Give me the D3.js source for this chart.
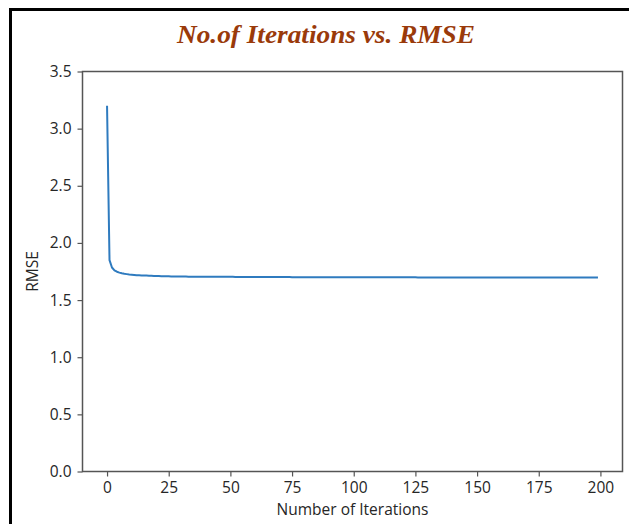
<!DOCTYPE html>
<html>
<head>
<meta charset="utf-8">
<script src="https://cdn.jsdelivr.net/npm/d3@7"></script>
<style>
  html, body { margin: 0; padding: 0; background: #fff; }
  svg { display: block; }
</style>
</head>
<body>
<div id="chart"></div>
<script>
// ---- Data ----
const titleText = "No.of Iterations vs. RMSE";
const xLabel = "Number of Iterations";
const yLabel = "RMSE";
const xTicks = [0, 25, 50, 75, 100, 125, 150, 175, 200];
const yTicks = [0.0, 0.5, 1.0, 1.5, 2.0, 2.5, 3.0, 3.5];
// RMSE per iteration (0..199)
const rmse = [
  3.200, 1.850, 1.785, 1.760, 1.748, 1.740, 1.734, 1.730, 1.727, 1.724,
  1.722, 1.720, 1.718, 1.717, 1.716, 1.715, 1.714, 1.713, 1.712, 1.711,
  1.710, 1.710, 1.709, 1.709, 1.708, 1.708, 1.707, 1.707, 1.707, 1.706,
  1.706, 1.706, 1.706, 1.705, 1.705, 1.705, 1.705, 1.705, 1.704, 1.704,
  1.704, 1.704, 1.704, 1.704, 1.703, 1.703, 1.703, 1.703, 1.703, 1.703,
  1.703, 1.703, 1.702, 1.702, 1.702, 1.702, 1.702, 1.702, 1.702, 1.702,
  1.702, 1.702, 1.701, 1.701, 1.701, 1.701, 1.701, 1.701, 1.701, 1.701,
  1.701, 1.701, 1.701, 1.701, 1.701, 1.700, 1.700, 1.700, 1.700, 1.700,
  1.700, 1.700, 1.700, 1.700, 1.700, 1.700, 1.700, 1.700, 1.700, 1.700,
  1.700, 1.700, 1.700, 1.700, 1.700, 1.700, 1.700, 1.699, 1.699, 1.699,
  1.699, 1.699, 1.699, 1.699, 1.699, 1.699, 1.699, 1.699, 1.699, 1.699,
  1.699, 1.699, 1.699, 1.699, 1.699, 1.699, 1.699, 1.699, 1.699, 1.699,
  1.699, 1.699, 1.699, 1.699, 1.699, 1.699, 1.698, 1.698, 1.698, 1.698,
  1.698, 1.698, 1.698, 1.698, 1.698, 1.698, 1.698, 1.698, 1.698, 1.698,
  1.698, 1.698, 1.698, 1.698, 1.698, 1.698, 1.698, 1.698, 1.698, 1.698,
  1.698, 1.698, 1.698, 1.698, 1.698, 1.698, 1.698, 1.698, 1.698, 1.698,
  1.697, 1.697, 1.697, 1.697, 1.697, 1.697, 1.697, 1.697, 1.697, 1.697,
  1.697, 1.697, 1.697, 1.697, 1.697, 1.697, 1.697, 1.697, 1.697, 1.697,
  1.697, 1.697, 1.697, 1.697, 1.697, 1.697, 1.697, 1.697, 1.697, 1.697,
  1.697, 1.697, 1.697, 1.697, 1.697, 1.697, 1.697, 1.697, 1.697, 1.697
];

// ---- Layout ----
const W = 629, H = 524;
const plot = { left: 82.5, right: 622.5, top: 71.5, bottom: 471.5 };

const svg = d3.select("#chart").append("svg")
  .attr("width", W).attr("height", H);

// outer black frame (left + top visible)
svg.append("line").attr("x1", 10.5).attr("x2", 10.5).attr("y1", 8).attr("y2", H)
  .attr("stroke", "#000").attr("stroke-width", 3);
svg.append("line").attr("x1", 9).attr("x2", W).attr("y1", 9.5).attr("y2", 9.5)
  .attr("stroke", "#000").attr("stroke-width", 3);

// title
svg.append("text")
  .attr("x", 177).attr("y", 43)
  .attr("font-family", "'Liberation Serif', 'DejaVu Serif', serif")
  .attr("font-weight", "bold").attr("font-style", "italic")
  .attr("font-size", 25)
  .attr("textLength", 298).attr("lengthAdjust", "spacingAndGlyphs")
  .attr("fill", "#9a3a0a")
  .text(titleText);

const xMin = -9.95, xMax = 208.95;
const x = d3.scaleLinear().domain([xMin, xMax]).range([plot.left, plot.right]);
const y = d3.scaleLinear().domain([0, 3.5]).range([plot.bottom, plot.top]);

const axisColor = "#555";
const textColor = "#262626";
const tickFont = "'Open Sans', 'DejaVu Sans', sans-serif";
const tickSize = 15.5;

// line
const line = d3.line().x((d, i) => x(i)).y(d => y(d));
svg.append("path").datum(rmse)
  .attr("d", line)
  .attr("fill", "none")
  .attr("stroke", "#2f7bbf")
  .attr("stroke-width", 2)
  .attr("stroke-linejoin", "round");

// frame (spines)
svg.append("rect")
  .attr("x", plot.left).attr("y", plot.top)
  .attr("width", plot.right - plot.left).attr("height", plot.bottom - plot.top)
  .attr("fill", "none").attr("stroke", axisColor).attr("stroke-width", 1.5);

// x axis
const xAxis = svg.append("g")
  .attr("transform", `translate(0,${plot.bottom})`)
  .call(d3.axisBottom(x).tickValues(xTicks).tickSize(5).tickPadding(5).tickFormat(d3.format("d")));
xAxis.select(".domain").remove();
xAxis.selectAll("line").attr("stroke", axisColor).attr("stroke-width", 1.2);
xAxis.selectAll("text").attr("font-family", tickFont).attr("font-size", tickSize).attr("fill", textColor);

// y axis
const yAxis = svg.append("g")
  .attr("transform", `translate(${plot.left},0)`)
  .call(d3.axisLeft(y).tickValues(yTicks).tickSize(5).tickPadding(6).tickFormat(d3.format(".1f")));
yAxis.select(".domain").remove();
yAxis.selectAll("line").attr("stroke", axisColor).attr("stroke-width", 1.2);
yAxis.selectAll("text").attr("font-family", tickFont).attr("font-size", tickSize).attr("fill", textColor);

// axis labels
svg.append("text")
  .attr("x", (plot.left + plot.right) / 2).attr("y", 515)
  .attr("text-anchor", "middle")
  .attr("font-family", tickFont).attr("font-size", tickSize).attr("fill", textColor)
  .text(xLabel);

svg.append("text")
  .attr("transform", `translate(38,${(plot.top + plot.bottom) / 2}) rotate(-90)`)
  .attr("text-anchor", "middle")
  .attr("font-family", tickFont).attr("font-size", tickSize).attr("fill", textColor)
  .text(yLabel);
</script>
</body>
</html>
